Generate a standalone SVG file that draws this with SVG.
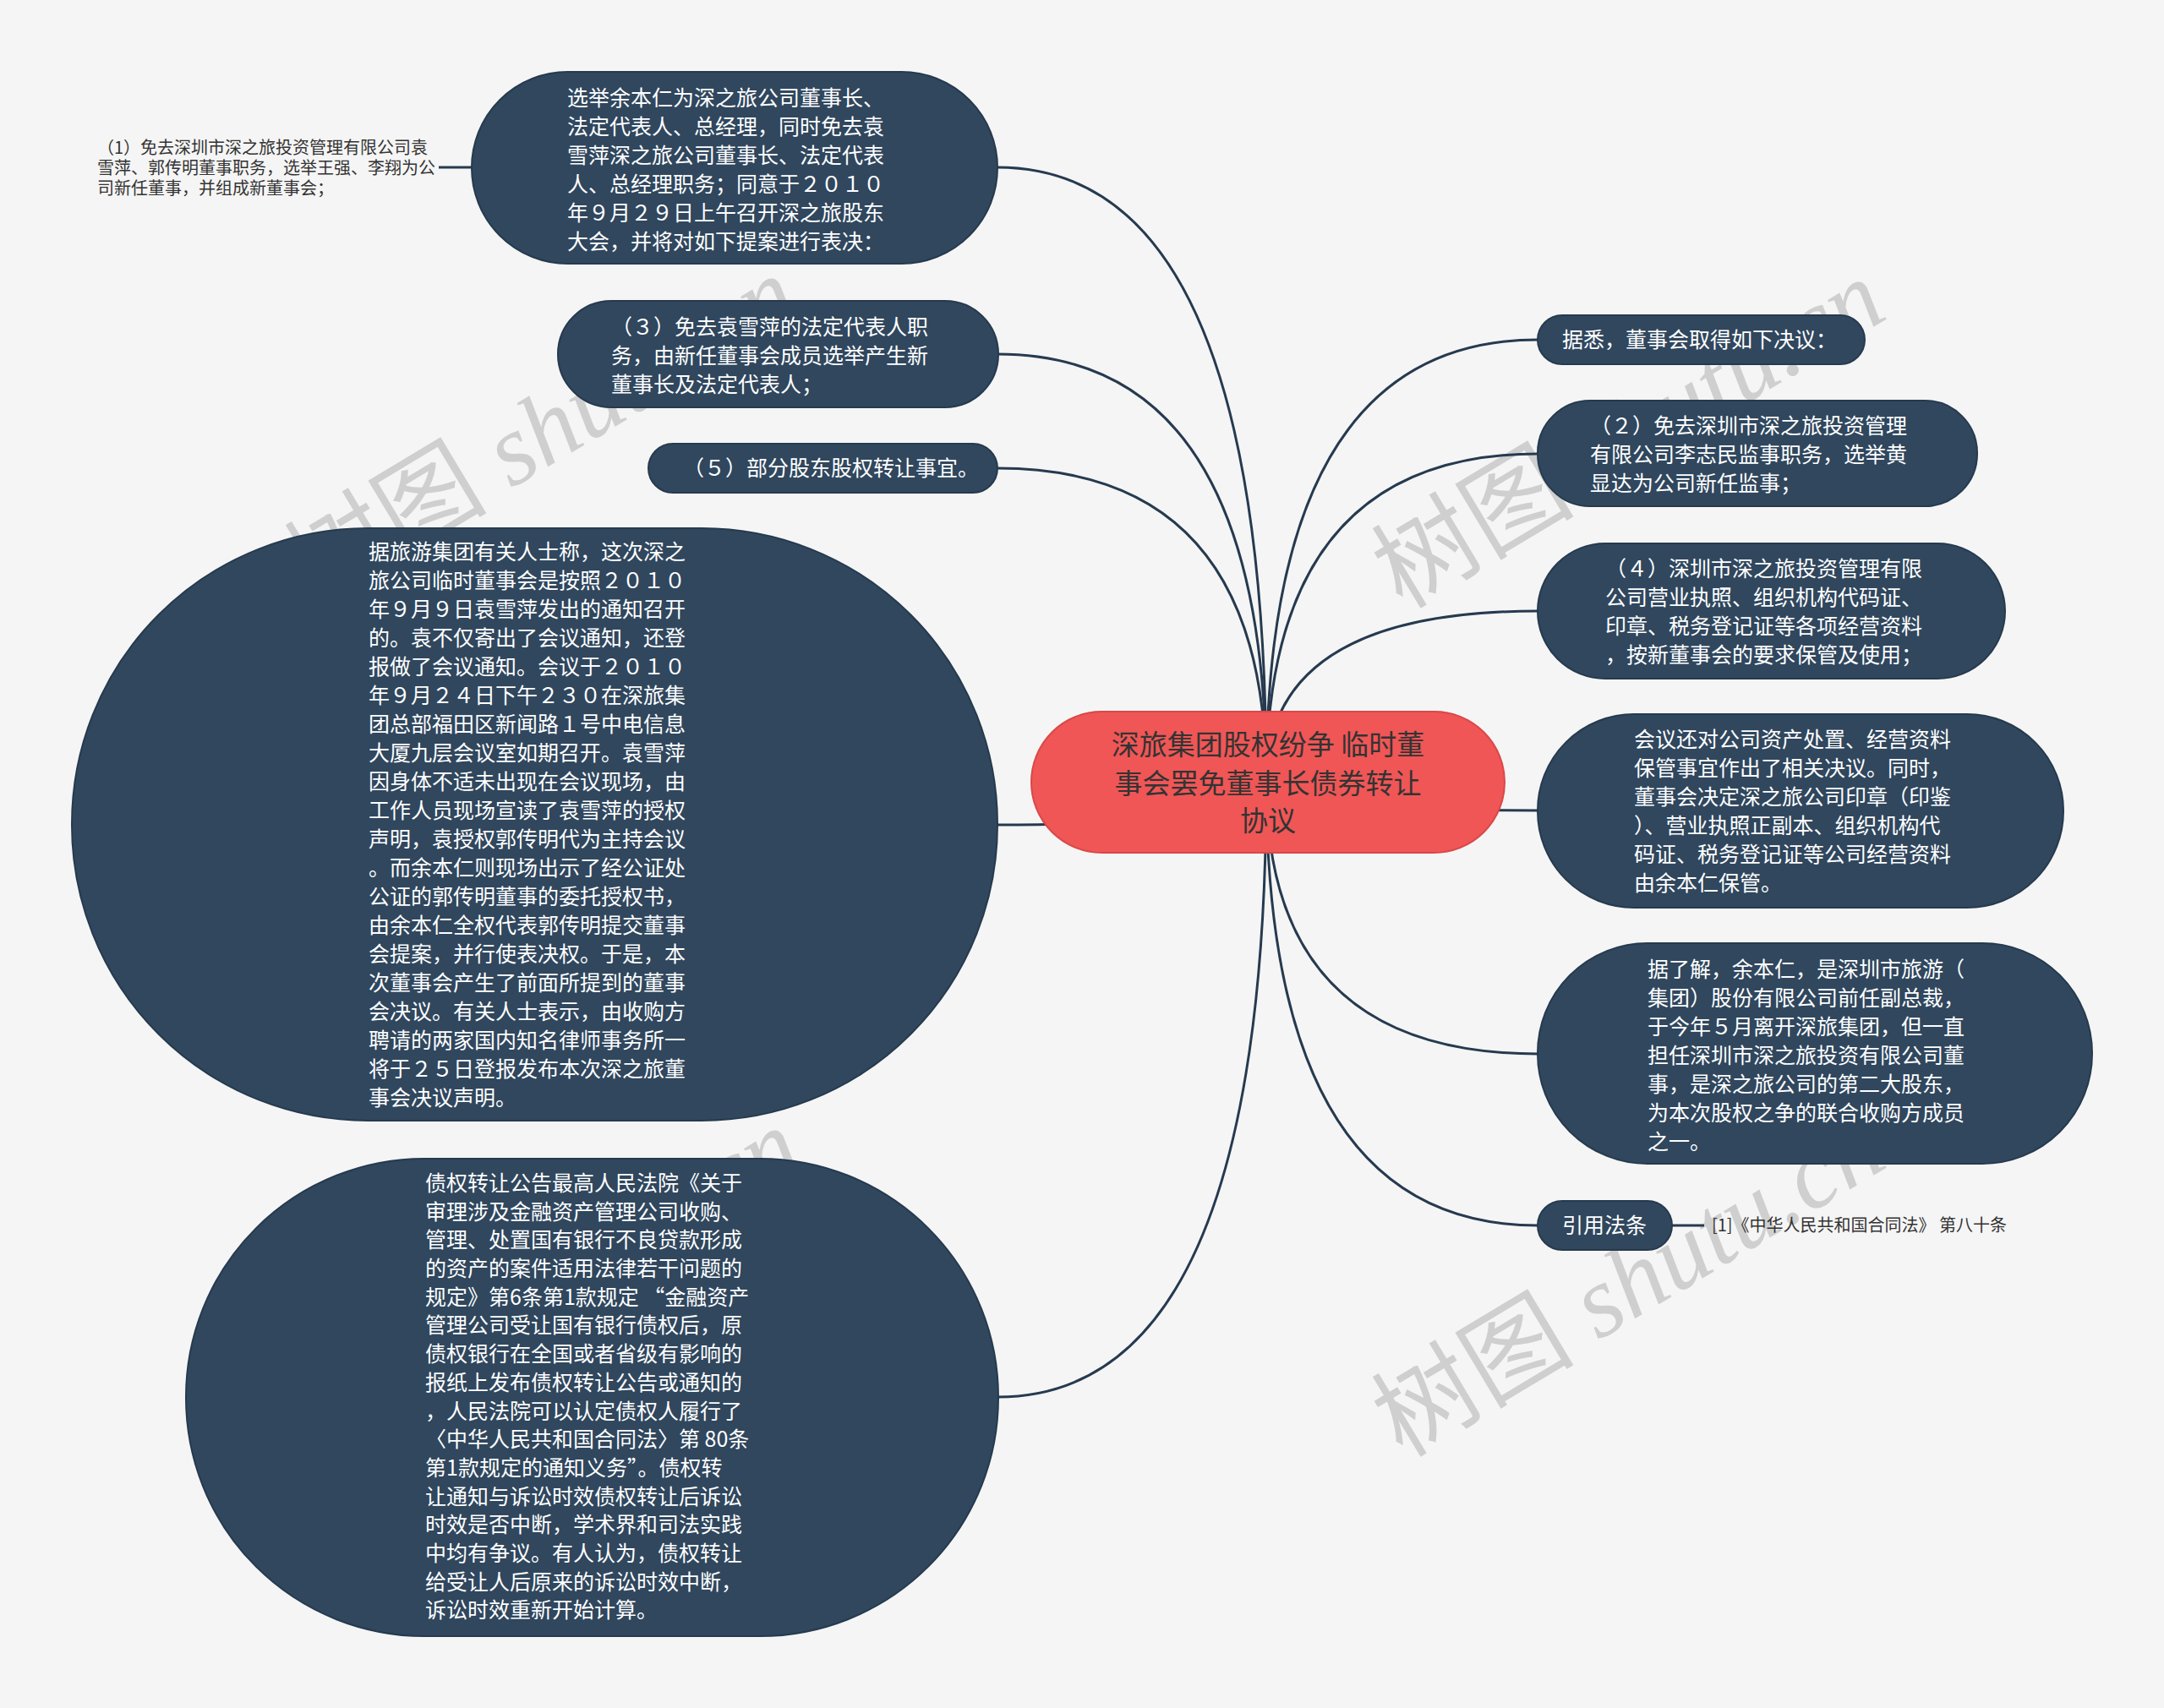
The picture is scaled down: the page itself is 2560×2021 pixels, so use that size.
<svg xmlns="http://www.w3.org/2000/svg" width="2560" height="2021" viewBox="0 0 2560 2021">
<style>
.bg{fill:#F5F5F5}
.n rect{fill:#30475E;stroke:#263A4E;stroke-width:2}
.root rect{fill:#F05656;stroke:#D94848;stroke-width:2}
.t{font-family:"Noto Sans CJK SC","Microsoft YaHei",sans-serif;font-size:25px;fill:#FFFFFF}
.rt{font-family:"Noto Sans CJK SC",sans-serif;font-size:33px;fill:#333333;text-anchor:middle}
.lt{font-family:"Noto Sans CJK SC",sans-serif;font-size:20px;fill:#333333}
.c path{fill:none;stroke:#263A4F;stroke-width:3}
.wm{font-family:"Liberation Serif","Noto Sans CJK SC",serif;font-size:120px;fill:#CFCFCF;text-anchor:middle}
.wm tspan{font-style:italic}
</style>
<rect class="bg" x="0" y="0" width="2560" height="2021"/>

<g id="watermarks">
<text class="wm" x="641" y="550" transform="rotate(-31 641 510)">树图 <tspan>shutu.cn</tspan></text>
<text class="wm" x="1927" y="554" transform="rotate(-31 1927 514)">树图 <tspan>shutu.cn</tspan></text>
<text class="wm" x="645" y="1558" transform="rotate(-31 645 1518)">树图 <tspan>shutu.cn</tspan></text>
<text class="wm" x="1927" y="1558" transform="rotate(-31 1927 1518)">树图 <tspan>shutu.cn</tspan></text>
</g>

<g id="connectors" class="c">
<path d="M1498 925 Q1498 198 1180 198"/>
<path d="M1498 925 Q1498 419 1180 419"/>
<path d="M1498 925 Q1498 554 1180 554"/>
<path d="M1498 925 Q1498 976 1180 976"/>
<path d="M1498 925 Q1498 1653 1180 1653"/>
<path d="M1498 925 Q1498 402 1819 402"/>
<path d="M1498 925 Q1498 537 1819 537"/>
<path d="M1498 925 Q1498 723 1819 723"/>
<path d="M1498 925 Q1498 959 1819 959"/>
<path d="M1498 925 Q1498 1247 1819 1247"/>
<path d="M1498 925 Q1498 1450 1819 1450"/>
<path d="M558 198 L519 198"/>
<path d="M1978 1450 L2016 1450"/>
</g>

<g id="root" class="root">
<rect x="1220" y="842" width="560" height="167" rx="83.5"/>
<text class="rt" x="1500" y="893">深旅集团股权纷争 临时董</text>
<text class="rt" x="1500" y="939">事会罢免董事长债券转让</text>
<text class="rt" x="1500" y="983">协议</text>
</g>

<g id="node-a" class="n">
<rect x="558" y="85" width="622" height="227" rx="113.5"/>
<text class="t" x="671" y="125">选举余本仁为深之旅公司董事长、</text>
<text class="t" x="671" y="159">法定代表人、总经理，同时免去袁</text>
<text class="t" x="671" y="193">雪萍深之旅公司董事长、法定代表</text>
<text class="t" x="671" y="227">人、总经理职务；同意于２０１０</text>
<text class="t" x="671" y="261">年９月２９日上午召开深之旅股东</text>
<text class="t" x="671" y="295">大会，并将对如下提案进行表决：</text>
</g>

<g id="leaf-1">
<text class="lt" x="115" y="182">（1）免去深圳市深之旅投资管理有限公司袁</text>
<text class="lt" x="115" y="206">雪萍、郭传明董事职务，选举王强、李翔为公</text>
<text class="lt" x="115" y="230">司新任董事，并组成新董事会；</text>
</g>

<g id="node-b" class="n">
<rect x="660" y="356" width="521" height="126" rx="63"/>
<text class="t" x="723" y="396">（３）免去袁雪萍的法定代表人职</text>
<text class="t" x="723" y="430">务，由新任董事会成员选举产生新</text>
<text class="t" x="723" y="464">董事长及法定代表人；</text>
</g>

<g id="node-c" class="n">
<rect x="767" y="525" width="413" height="58" rx="29"/>
<text class="t" x="808" y="563">（５）部分股东股权转让事宜。</text>
</g>

<g id="node-d" class="n">
<rect x="85" y="625" width="1095" height="701" rx="350"/>
<text class="t" x="436" y="662">据旅游集团有关人士称，这次深之</text>
<text class="t" x="436" y="696">旅公司临时董事会是按照２０１０</text>
<text class="t" x="436" y="730">年９月９日袁雪萍发出的通知召开</text>
<text class="t" x="436" y="764">的。袁不仅寄出了会议通知，还登</text>
<text class="t" x="436" y="798">报做了会议通知。会议于２０１０</text>
<text class="t" x="436" y="832">年９月２４日下午２３０在深旅集</text>
<text class="t" x="436" y="866">团总部福田区新闻路１号中电信息</text>
<text class="t" x="436" y="900">大厦九层会议室如期召开。袁雪萍</text>
<text class="t" x="436" y="934">因身体不适未出现在会议现场，由</text>
<text class="t" x="436" y="968">工作人员现场宣读了袁雪萍的授权</text>
<text class="t" x="436" y="1002">声明，袁授权郭传明代为主持会议</text>
<text class="t" x="436" y="1036">。而余本仁则现场出示了经公证处</text>
<text class="t" x="436" y="1070">公证的郭传明董事的委托授权书，</text>
<text class="t" x="436" y="1104">由余本仁全权代表郭传明提交董事</text>
<text class="t" x="436" y="1138">会提案，并行使表决权。于是，本</text>
<text class="t" x="436" y="1172">次董事会产生了前面所提到的董事</text>
<text class="t" x="436" y="1206">会决议。有关人士表示，由收购方</text>
<text class="t" x="436" y="1240">聘请的两家国内知名律师事务所一</text>
<text class="t" x="436" y="1274">将于２５日登报发布本次深之旅董</text>
<text class="t" x="436" y="1308">事会决议声明。</text>
</g>

<g id="node-e" class="n">
<rect x="220" y="1371" width="961" height="565" rx="282"/>
<text class="t" x="503" y="1409">债权转让公告最高人民法院《关于</text>
<text class="t" x="503" y="1443">审理涉及金融资产管理公司收购、</text>
<text class="t" x="503" y="1476">管理、处置国有银行不良贷款形成</text>
<text class="t" x="503" y="1510">的资产的案件适用法律若干问题的</text>
<text class="t" x="503" y="1544">规定》第6条第1款规定 “金融资产</text>
<text class="t" x="503" y="1577">管理公司受让国有银行债权后，原</text>
<text class="t" x="503" y="1611">债权银行在全国或者省级有影响的</text>
<text class="t" x="503" y="1645">报纸上发布债权转让公告或通知的</text>
<text class="t" x="503" y="1679">，人民法院可以认定债权人履行了</text>
<text class="t" x="503" y="1712">〈中华人民共和国合同法〉第 80条</text>
<text class="t" x="503" y="1746">第1款规定的通知义务”。债权转</text>
<text class="t" x="503" y="1780">让通知与诉讼时效债权转让后诉讼</text>
<text class="t" x="503" y="1813">时效是否中断，学术界和司法实践</text>
<text class="t" x="503" y="1847">中均有争议。有人认为，债权转让</text>
<text class="t" x="503" y="1881">给受让人后原来的诉讼时效中断，</text>
<text class="t" x="503" y="1914">诉讼时效重新开始计算。</text>
</g>

<g id="node-r1" class="n">
<rect x="1819" y="373" width="387" height="58" rx="29"/>
<text class="t" x="1848" y="411">据悉，董事会取得如下决议：</text>
</g>

<g id="node-r2" class="n">
<rect x="1819" y="474" width="520" height="125" rx="62"/>
<text class="t" x="1881" y="513">（２）免去深圳市深之旅投资管理</text>
<text class="t" x="1881" y="547">有限公司李志民监事职务，选举黄</text>
<text class="t" x="1881" y="581">显达为公司新任监事；</text>
</g>

<g id="node-r3" class="n">
<rect x="1819" y="643" width="553" height="160" rx="80"/>
<text class="t" x="1899" y="682">（４）深圳市深之旅投资管理有限</text>
<text class="t" x="1899" y="716">公司营业执照、组织机构代码证、</text>
<text class="t" x="1899" y="750">印章、税务登记证等各项经营资料</text>
<text class="t" x="1899" y="784">，按新董事会的要求保管及使用；</text>
</g>

<g id="node-r4" class="n">
<rect x="1819" y="845" width="622" height="229" rx="114"/>
<text class="t" x="1933" y="884">会议还对公司资产处置、经营资料</text>
<text class="t" x="1933" y="918">保管事宜作出了相关决议。同时，</text>
<text class="t" x="1933" y="952">董事会决定深之旅公司印章（印鉴</text>
<text class="t" x="1933" y="986">）、营业执照正副本、组织机构代</text>
<text class="t" x="1933" y="1020">码证、税务登记证等公司经营资料</text>
<text class="t" x="1933" y="1054">由余本仁保管。</text>
</g>

<g id="node-r5" class="n">
<rect x="1819" y="1116" width="656" height="261" rx="130"/>
<text class="t" x="1949" y="1156">据了解，余本仁，是深圳市旅游（</text>
<text class="t" x="1949" y="1190">集团）股份有限公司前任副总裁，</text>
<text class="t" x="1949" y="1224">于今年５月离开深旅集团，但一直</text>
<text class="t" x="1949" y="1258">担任深圳市深之旅投资有限公司董</text>
<text class="t" x="1949" y="1292">事，是深之旅公司的第二大股东，</text>
<text class="t" x="1949" y="1326">为本次股权之争的联合收购方成员</text>
<text class="t" x="1949" y="1360">之一。</text>
</g>

<g id="node-r6" class="n">
<rect x="1819" y="1421" width="159" height="58" rx="29"/>
<text class="t" x="1848" y="1459">引用法条</text>
</g>

<g id="leaf-law">
<text class="lt" x="2025" y="1457">[1]《中华人民共和国合同法》 第八十条</text>
</g>
</svg>
